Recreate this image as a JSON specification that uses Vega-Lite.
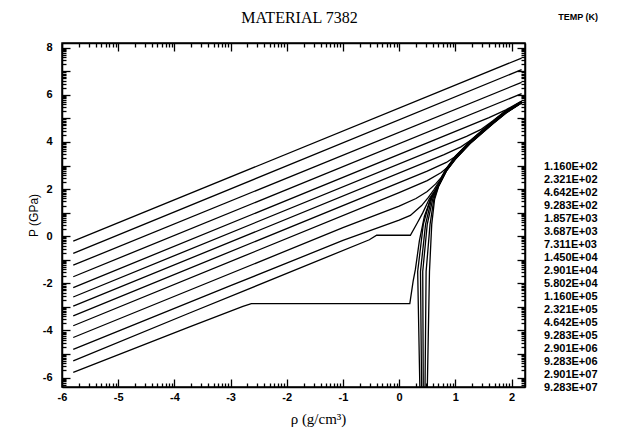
{
  "$schema": "https://vega.github.io/schema/vega-lite/v6.json",
  "width": 463,
  "height": 344,
  "autosize": "none",
  "padding": {"left": 62, "top": 43, "right": 97, "bottom": 53},
  "background": "white",
  "title": {"text": "MATERIAL 7382", "font": "Liberation Serif", "fontSize": 16, "fontWeight": "normal", "color": "black", "offset": -13, "dx": 6, "anchor": "middle"},
  "config": {
    "view": {"stroke": "black", "strokeWidth": 1.5},
    "axis": {"domainColor": "black", "domainWidth": 1.5, "tickColor": "black", "tickWidth": 1.3, "labelColor": "black", "titleColor": "black", "grid": false, "labelOverlap": false, "labelFont": "Liberation Sans", "labelFontWeight": "bold", "labelFontSize": 11, "labelBound": false, "labelFlush": false}
  },
  "data": {"values": [
    {"t":"1.160E+02","i":1,"x":0.50,"y":-6.6},{"t":"1.160E+02","i":2,"x":0.54,"y":-1.5},{"t":"1.160E+02","i":3,"x":0.58,"y":0.5},{"t":"1.160E+02","i":4,"x":0.63,"y":1.55},{"t":"1.160E+02","i":5,"x":0.70,"y":2.1},{"t":"1.160E+02","i":6,"x":0.84,"y":2.76},{"t":"1.160E+02","i":7,"x":1.0,"y":3.26},{"t":"1.160E+02","i":8,"x":1.26,"y":3.92},{"t":"1.160E+02","i":9,"x":1.5,"y":4.42},{"t":"1.160E+02","i":10,"x":1.67,"y":4.77},{"t":"1.160E+02","i":11,"x":1.9,"y":5.22},{"t":"1.160E+02","i":12,"x":2.18,"y":5.66},
    {"t":"2.321E+02","i":1,"x":0.46,"y":-6.6},{"t":"2.321E+02","i":2,"x":0.48,"y":-1.5},{"t":"2.321E+02","i":3,"x":0.55,"y":0.5},{"t":"2.321E+02","i":4,"x":0.62,"y":1.6},{"t":"2.321E+02","i":5,"x":0.70,"y":2.12},{"t":"2.321E+02","i":6,"x":0.84,"y":2.77},{"t":"2.321E+02","i":7,"x":1.0,"y":3.27},{"t":"2.321E+02","i":8,"x":1.26,"y":3.93},{"t":"2.321E+02","i":9,"x":1.5,"y":4.43},{"t":"2.321E+02","i":10,"x":1.67,"y":4.78},{"t":"2.321E+02","i":11,"x":1.9,"y":5.23},{"t":"2.321E+02","i":12,"x":2.18,"y":5.67},
    {"t":"4.642E+02","i":1,"x":0.43,"y":-6.6},{"t":"4.642E+02","i":2,"x":0.42,"y":-1.5},{"t":"4.642E+02","i":3,"x":0.50,"y":0.5},{"t":"4.642E+02","i":4,"x":0.60,"y":1.6},{"t":"4.642E+02","i":5,"x":0.70,"y":2.14},{"t":"4.642E+02","i":6,"x":0.84,"y":2.78},{"t":"4.642E+02","i":7,"x":1.0,"y":3.28},{"t":"4.642E+02","i":8,"x":1.26,"y":3.94},{"t":"4.642E+02","i":9,"x":1.5,"y":4.44},{"t":"4.642E+02","i":10,"x":1.67,"y":4.79},{"t":"4.642E+02","i":11,"x":1.9,"y":5.24},{"t":"4.642E+02","i":12,"x":2.18,"y":5.67},
    {"t":"9.283E+02","i":1,"x":0.40,"y":-6.6},{"t":"9.283E+02","i":2,"x":0.38,"y":-1.5},{"t":"9.283E+02","i":3,"x":0.47,"y":0.5},{"t":"9.283E+02","i":4,"x":0.58,"y":1.62},{"t":"9.283E+02","i":5,"x":0.70,"y":2.16},{"t":"9.283E+02","i":6,"x":0.84,"y":2.8},{"t":"9.283E+02","i":7,"x":1.0,"y":3.3},{"t":"9.283E+02","i":8,"x":1.26,"y":3.95},{"t":"9.283E+02","i":9,"x":1.5,"y":4.45},{"t":"9.283E+02","i":10,"x":1.67,"y":4.8},{"t":"9.283E+02","i":11,"x":1.9,"y":5.25},{"t":"9.283E+02","i":12,"x":2.18,"y":5.68},
    {"t":"1.857E+03","i":1,"x":0.37,"y":-6.6},{"t":"1.857E+03","i":2,"x":0.33,"y":-1.5},{"t":"1.857E+03","i":3,"x":0.43,"y":0.5},{"t":"1.857E+03","i":4,"x":0.56,"y":1.62},{"t":"1.857E+03","i":5,"x":0.70,"y":2.18},{"t":"1.857E+03","i":6,"x":0.84,"y":2.82},{"t":"1.857E+03","i":7,"x":1.0,"y":3.32},{"t":"1.857E+03","i":8,"x":1.26,"y":3.96},{"t":"1.857E+03","i":9,"x":1.5,"y":4.46},{"t":"1.857E+03","i":10,"x":1.67,"y":4.81},{"t":"1.857E+03","i":11,"x":1.9,"y":5.26},{"t":"1.857E+03","i":12,"x":2.18,"y":5.68},
    {"t":"3.687E+03","i":1,"x":-5.8,"y":-5.78},{"t":"3.687E+03","i":2,"x":-3.73,"y":-3.85},{"t":"3.687E+03","i":3,"x":-2.78,"y":-2.98},{"t":"3.687E+03","i":4,"x":-2.63,"y":-2.86},{"t":"3.687E+03","i":5,"x":0.19,"y":-2.86},{"t":"3.687E+03","i":6,"x":0.25,"y":-1.9},{"t":"3.687E+03","i":7,"x":0.29,"y":-1.4},{"t":"3.687E+03","i":8,"x":0.36,"y":-0.2},{"t":"3.687E+03","i":9,"x":0.45,"y":0.85},{"t":"3.687E+03","i":10,"x":0.55,"y":1.5},{"t":"3.687E+03","i":11,"x":0.63,"y":1.85},{"t":"3.687E+03","i":12,"x":0.72,"y":2.25},{"t":"3.687E+03","i":13,"x":0.84,"y":2.84},{"t":"3.687E+03","i":14,"x":1.0,"y":3.34},{"t":"3.687E+03","i":15,"x":1.26,"y":3.97},{"t":"3.687E+03","i":16,"x":1.5,"y":4.47},{"t":"3.687E+03","i":17,"x":1.67,"y":4.82},{"t":"3.687E+03","i":18,"x":1.9,"y":5.27},{"t":"3.687E+03","i":19,"x":2.18,"y":5.69},
    {"t":"7.311E+03","i":1,"x":-5.8,"y":-5.29},{"t":"7.311E+03","i":2,"x":-3.73,"y":-3.26},{"t":"7.311E+03","i":3,"x":-0.53,"y":-0.15},{"t":"7.311E+03","i":4,"x":-0.4,"y":0.04},{"t":"7.311E+03","i":5,"x":0.2,"y":0.04},{"t":"7.311E+03","i":6,"x":0.32,"y":0.55},{"t":"7.311E+03","i":7,"x":0.42,"y":0.99},{"t":"7.311E+03","i":8,"x":0.54,"y":1.6},{"t":"7.311E+03","i":9,"x":0.64,"y":1.95},{"t":"7.311E+03","i":10,"x":0.74,"y":2.35},{"t":"7.311E+03","i":11,"x":0.84,"y":2.86},{"t":"7.311E+03","i":12,"x":1.0,"y":3.36},{"t":"7.311E+03","i":13,"x":1.26,"y":3.98},{"t":"7.311E+03","i":14,"x":1.5,"y":4.48},{"t":"7.311E+03","i":15,"x":1.67,"y":4.83},{"t":"7.311E+03","i":16,"x":1.9,"y":5.28},{"t":"7.311E+03","i":17,"x":2.18,"y":5.69},
    {"t":"1.450E+04","i":1,"x":-5.8,"y":-4.80},{"t":"1.450E+04","i":2,"x":-3.0,"y":-2.1},{"t":"1.450E+04","i":3,"x":-1.0,"y":-0.18},{"t":"1.450E+04","i":4,"x":0.0,"y":0.68},{"t":"1.450E+04","i":5,"x":0.2,"y":0.88},{"t":"1.450E+04","i":6,"x":0.4,"y":1.3},{"t":"1.450E+04","i":7,"x":0.52,"y":1.65},{"t":"1.450E+04","i":8,"x":0.62,"y":1.98},{"t":"1.450E+04","i":9,"x":0.72,"y":2.35},{"t":"1.450E+04","i":10,"x":0.84,"y":2.88},{"t":"1.450E+04","i":11,"x":1.0,"y":3.38},{"t":"1.450E+04","i":12,"x":1.26,"y":3.99},{"t":"1.450E+04","i":13,"x":1.5,"y":4.49},{"t":"1.450E+04","i":14,"x":1.67,"y":4.84},{"t":"1.450E+04","i":15,"x":1.9,"y":5.29},{"t":"1.450E+04","i":16,"x":2.18,"y":5.7},
    {"t":"2.901E+04","i":1,"x":-5.8,"y":-4.30},{"t":"2.901E+04","i":2,"x":-1.0,"y":0.36},{"t":"2.901E+04","i":3,"x":0.0,"y":1.28},{"t":"2.901E+04","i":4,"x":0.3,"y":1.6},{"t":"2.901E+04","i":5,"x":0.5,"y":1.9},{"t":"2.901E+04","i":6,"x":0.65,"y":2.22},{"t":"2.901E+04","i":7,"x":0.75,"y":2.5},{"t":"2.901E+04","i":8,"x":0.86,"y":2.92},{"t":"2.901E+04","i":9,"x":1.0,"y":3.4},{"t":"2.901E+04","i":10,"x":1.26,"y":4.0},{"t":"2.901E+04","i":11,"x":1.5,"y":4.5},{"t":"2.901E+04","i":12,"x":1.67,"y":4.85},{"t":"2.901E+04","i":13,"x":1.9,"y":5.3},{"t":"2.901E+04","i":14,"x":2.18,"y":5.7},
    {"t":"5.802E+04","i":1,"x":-5.8,"y":-3.80},{"t":"5.802E+04","i":2,"x":0.0,"y":1.85},{"t":"5.802E+04","i":3,"x":0.5,"y":2.36},{"t":"5.802E+04","i":4,"x":0.75,"y":2.7},{"t":"5.802E+04","i":5,"x":0.9,"y":3.0},{"t":"5.802E+04","i":6,"x":1.02,"y":3.42},{"t":"5.802E+04","i":7,"x":1.26,"y":4.02},{"t":"5.802E+04","i":8,"x":1.5,"y":4.52},{"t":"5.802E+04","i":9,"x":1.67,"y":4.86},{"t":"5.802E+04","i":10,"x":1.9,"y":5.3},{"t":"5.802E+04","i":11,"x":2.18,"y":5.7},
    {"t":"1.160E+05","i":1,"x":-5.8,"y":-3.38},{"t":"1.160E+05","i":2,"x":0.5,"y":2.76},{"t":"1.160E+05","i":3,"x":0.84,"y":3.13},{"t":"1.160E+05","i":4,"x":1.0,"y":3.38},{"t":"1.160E+05","i":5,"x":1.12,"y":3.68},{"t":"1.160E+05","i":6,"x":1.26,"y":4.04},{"t":"1.160E+05","i":7,"x":1.5,"y":4.53},{"t":"1.160E+05","i":8,"x":1.67,"y":4.87},{"t":"1.160E+05","i":9,"x":1.9,"y":5.31},{"t":"1.160E+05","i":10,"x":2.18,"y":5.71},
    {"t":"2.321E+05","i":1,"x":-5.8,"y":-2.97},{"t":"2.321E+05","i":2,"x":0.8,"y":3.46},{"t":"2.321E+05","i":3,"x":1.1,"y":3.79},{"t":"2.321E+05","i":4,"x":1.28,"y":4.08},{"t":"2.321E+05","i":5,"x":1.5,"y":4.54},{"t":"2.321E+05","i":6,"x":1.67,"y":4.88},{"t":"2.321E+05","i":7,"x":1.9,"y":5.32},{"t":"2.321E+05","i":8,"x":2.18,"y":5.71},
    {"t":"4.642E+05","i":1,"x":-5.8,"y":-2.58},{"t":"4.642E+05","i":2,"x":1.2,"y":4.24},{"t":"4.642E+05","i":3,"x":1.45,"y":4.52},{"t":"4.642E+05","i":4,"x":1.67,"y":4.9},{"t":"4.642E+05","i":5,"x":1.9,"y":5.33},{"t":"4.642E+05","i":6,"x":2.18,"y":5.72},
    {"t":"9.283E+05","i":1,"x":-5.8,"y":-2.18},{"t":"9.283E+05","i":2,"x":1.6,"y":5.03},{"t":"9.283E+05","i":3,"x":1.9,"y":5.36},{"t":"9.283E+05","i":4,"x":2.18,"y":5.74},
    {"t":"2.901E+06","i":1,"x":-5.8,"y":-1.72},{"t":"2.901E+06","i":2,"x":2.18,"y":6.05},
    {"t":"9.283E+06","i":1,"x":-5.8,"y":-1.23},{"t":"9.283E+06","i":2,"x":2.18,"y":6.53},
    {"t":"2.901E+07","i":1,"x":-5.8,"y":-0.73},{"t":"2.901E+07","i":2,"x":2.18,"y":7.07},
    {"t":"9.283E+07","i":1,"x":-5.8,"y":-0.21},{"t":"9.283E+07","i":2,"x":2.18,"y":7.56}
  ]},
  "layer": [
    {
      "mark": {"type": "line", "strokeWidth": 1.3, "clip": true},
      "encoding": {
        "x": {"field": "x", "type": "quantitative", "scale": {"domain": [-6, 2.24], "nice": false, "zero": false},
          "axis": {"orient": "bottom", "title": "ρ (g/cm³)", "titleFont": "Liberation Serif", "titleFontSize": 15, "titleFontWeight": "normal", "titleX": 256, "titleY": 24, "titleBaseline": "top",
            "values": [-6,-5.699,-5.523,-5.398,-5.301,-5.222,-5.155,-5.097,-5.046,-5,-4.699,-4.523,-4.398,-4.301,-4.222,-4.155,-4.097,-4.046,-4,-3.699,-3.523,-3.398,-3.301,-3.222,-3.155,-3.097,-3.046,-3,-2.699,-2.523,-2.398,-2.301,-2.222,-2.155,-2.097,-2.046,-2,-1.699,-1.523,-1.398,-1.301,-1.222,-1.155,-1.097,-1.046,-1,-0.699,-0.523,-0.398,-0.301,-0.222,-0.155,-0.097,-0.046,0,0.301,0.477,0.602,0.699,0.778,0.845,0.903,0.954,1,1.301,1.477,1.602,1.699,1.778,1.845,1.903,1.954,2],
            "labelExpr": "abs(datum.value-round(datum.value))<0.001 ? ''+round(datum.value) : ''",
            "tickSize": {"condition": {"test": "abs(datum.value-round(datum.value))<0.001", "value": -8}, "value": -4},
            "labelPadding": 12}},
        "y": {"field": "y", "type": "quantitative", "scale": {"domain": [-6.4, 8.2], "nice": false, "zero": false},
          "axis": {"orient": "left", "title": "P (GPa)", "titleFont": "Liberation Sans", "titleFontSize": 12, "titleFontWeight": "normal", "titleX": -29, "titleY": 172, "titleBaseline": "middle", "titleAngle": -90,
            "values": [-6.301,-6.222,-6.155,-6.097,-6.046,-6,-5.699,-5.523,-5.398,-5.301,-5.222,-5.155,-5.097,-5.046,-5,-4.699,-4.523,-4.398,-4.301,-4.222,-4.155,-4.097,-4.046,-4,-3.699,-3.523,-3.398,-3.301,-3.222,-3.155,-3.097,-3.046,-3,-2.699,-2.523,-2.398,-2.301,-2.222,-2.155,-2.097,-2.046,-2,-1.699,-1.523,-1.398,-1.301,-1.222,-1.155,-1.097,-1.046,-1,-0.699,-0.523,-0.398,-0.301,-0.222,-0.155,-0.097,-0.046,0,0.301,0.477,0.602,0.699,0.778,0.845,0.903,0.954,1,1.301,1.477,1.602,1.699,1.778,1.845,1.903,1.954,2,2.301,2.477,2.602,2.699,2.778,2.845,2.903,2.954,3,3.301,3.477,3.602,3.699,3.778,3.845,3.903,3.954,4,4.301,4.477,4.602,4.699,4.778,4.845,4.903,4.954,5,5.301,5.477,5.602,5.699,5.778,5.845,5.903,5.954,6,6.301,6.477,6.602,6.699,6.778,6.845,6.903,6.954,7,7.301,7.477,7.602,7.699,7.778,7.845,7.903,7.954,8],
            "labelExpr": "abs(datum.value-round(datum.value))<0.001 && round(datum.value)%2==0 ? ''+round(datum.value) : ''",
            "tickSize": {"condition": {"test": "abs(datum.value-round(datum.value))<0.001", "value": -8}, "value": -4},
            "labelPadding": 18}},
        "color": {"field": "t", "type": "nominal",
          "scale": {"domain": ["1.160E+02","2.321E+02","4.642E+02","9.283E+02","1.857E+03","3.687E+03","7.311E+03","1.450E+04","2.901E+04","5.802E+04","1.160E+05","2.321E+05","4.642E+05","9.283E+05","2.901E+06","9.283E+06","2.901E+07","9.283E+07"],
            "range": ["black","black","black","black","black","black","black","black","black","black","black","black","black","black","black","black","black","black"]},
          "legend": {"orient": "none", "legendX": 471, "legendY": -30, "title": "TEMP (K)", "titleFont": "Liberation Sans", "titleFontSize": 9, "titleFontWeight": "bold", "titleColor": "black", "titlePadding": 139, "titleAnchor": "end",
            "symbolSize": 0, "symbolOpacity": 0, "symbolStrokeWidth": 0, "labelOffset": 0, "labelFont": "Liberation Sans", "labelFontSize": 11, "labelFontWeight": "bold", "labelColor": "black", "clipHeight": 12.5, "rowPadding": 0, "columns": 1}},
        "order": {"field": "i", "type": "quantitative"}
      }
    },
    {
      "mark": {"type": "line", "strokeOpacity": 0},
      "encoding": {
        "x": {"field": "x", "type": "quantitative",
          "axis": {"orient": "top", "title": null, "labels": false,
            "values": [-6,-5.699,-5.523,-5.398,-5.301,-5.222,-5.155,-5.097,-5.046,-5,-4.699,-4.523,-4.398,-4.301,-4.222,-4.155,-4.097,-4.046,-4,-3.699,-3.523,-3.398,-3.301,-3.222,-3.155,-3.097,-3.046,-3,-2.699,-2.523,-2.398,-2.301,-2.222,-2.155,-2.097,-2.046,-2,-1.699,-1.523,-1.398,-1.301,-1.222,-1.155,-1.097,-1.046,-1,-0.699,-0.523,-0.398,-0.301,-0.222,-0.155,-0.097,-0.046,0,0.301,0.477,0.602,0.699,0.778,0.845,0.903,0.954,1,1.301,1.477,1.602,1.699,1.778,1.845,1.903,1.954,2],
            "tickSize": {"condition": {"test": "abs(datum.value-round(datum.value))<0.001", "value": -8}, "value": -4}}},
        "y": {"field": "y", "type": "quantitative",
          "axis": {"orient": "right", "title": null, "labels": false,
            "values": [-6.301,-6.222,-6.155,-6.097,-6.046,-6,-5.699,-5.523,-5.398,-5.301,-5.222,-5.155,-5.097,-5.046,-5,-4.699,-4.523,-4.398,-4.301,-4.222,-4.155,-4.097,-4.046,-4,-3.699,-3.523,-3.398,-3.301,-3.222,-3.155,-3.097,-3.046,-3,-2.699,-2.523,-2.398,-2.301,-2.222,-2.155,-2.097,-2.046,-2,-1.699,-1.523,-1.398,-1.301,-1.222,-1.155,-1.097,-1.046,-1,-0.699,-0.523,-0.398,-0.301,-0.222,-0.155,-0.097,-0.046,0,0.301,0.477,0.602,0.699,0.778,0.845,0.903,0.954,1,1.301,1.477,1.602,1.699,1.778,1.845,1.903,1.954,2,2.301,2.477,2.602,2.699,2.778,2.845,2.903,2.954,3,3.301,3.477,3.602,3.699,3.778,3.845,3.903,3.954,4,4.301,4.477,4.602,4.699,4.778,4.845,4.903,4.954,5,5.301,5.477,5.602,5.699,5.778,5.845,5.903,5.954,6,6.301,6.477,6.602,6.699,6.778,6.845,6.903,6.954,7,7.301,7.477,7.602,7.699,7.778,7.845,7.903,7.954,8],
            "tickSize": {"condition": {"test": "abs(datum.value-round(datum.value))<0.001", "value": -8}, "value": -4}}},
        "detail": {"field": "t", "type": "nominal"},
        "order": {"field": "i", "type": "quantitative"}
      }
    }
  ],
  "resolve": {"axis": {"x": "independent", "y": "independent"}}
}
